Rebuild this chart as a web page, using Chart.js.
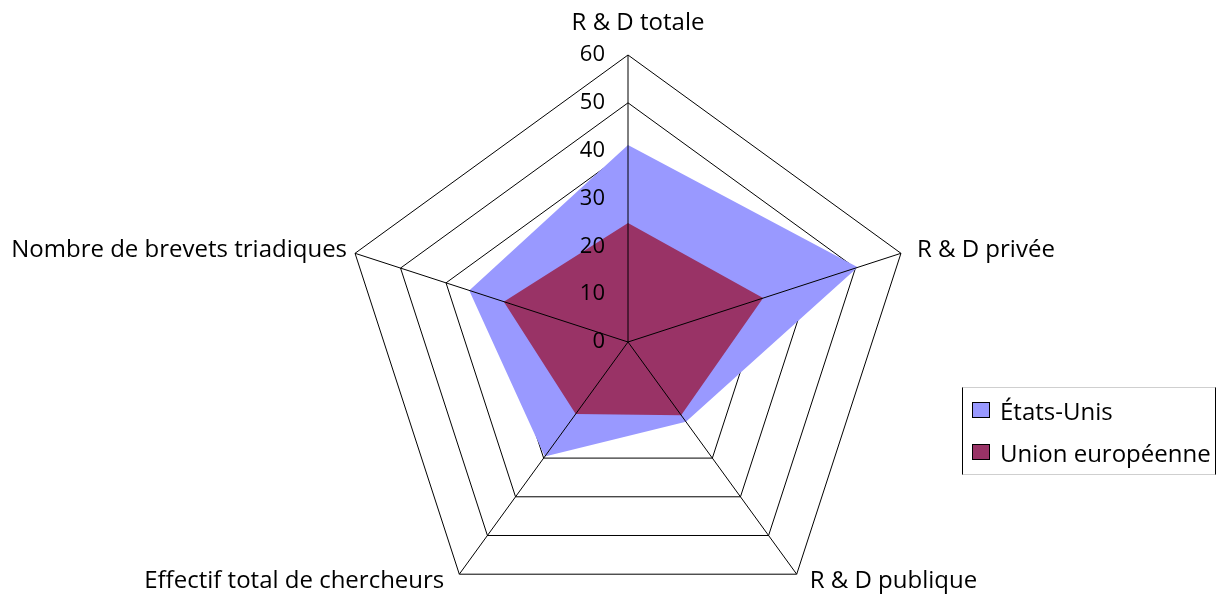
<!DOCTYPE html>
<html lang="fr">
<head>
<meta charset="utf-8">
<title>R &amp; D : États-Unis et Union européenne</title>
<script src="https://cdn.jsdelivr.net/npm/chart.js@4.4.1/dist/chart.umd.min.js"></script>
<style>
  html, body { margin: 0; padding: 0; background: #ffffff; overflow: hidden; }
  #wrap { position: relative; width: 1226px; height: 600px; }
  #chart { position: absolute; left: 0; top: 0; }
  #legend {
    position: absolute; left: 962px; top: 387px; width: 254px; height: 88px;
    border-left: 1.5px solid #000; border-right: 1.5px solid #000;
    border-top: 1px solid #cfcfcf; border-bottom: 1px solid #cfcfcf;
    font-family: "Open Sans", sans-serif; font-size: 24px; color: #000;
    box-sizing: border-box; white-space: nowrap;
  }
  .item { position: absolute; left: 9px; height: 30px; display: flex; align-items: center; }
  .swatch { width: 18px; height: 16px; border: 1px solid #000; margin-right: 10px; box-sizing: border-box; }
</style>
</head>
<body>
<div id="wrap">
  <canvas id="chart" width="1226" height="600"></canvas>
  <div id="legend"></div>
</div>
<script>
const categories = [
  "R & D totale",
  "R & D privée",
  "R & D publique",
  "Effectif total de chercheurs",
  "Nombre de brevets triadiques"
];
const seriesNames = ["États-Unis", "Union européenne"];
const etatsUnis = [41.2, 50.5, 20.6, 29.6, 34.9];
const unionEuropeenne = [24.9, 29.7, 18.9, 18.6, 27.3];
const seriesColors = ["#9999ff", "#993366"];
const tickValues = [0, 10, 20, 30, 40, 50, 60];

const FONT = "'Open Sans', sans-serif";

// Radar placement on the canvas.
const RADAR = { cx: 628, cy: 342, radius: 287 };

// Axis-name placement relative to each outer vertex: alignment and offset to the baseline.
const LABEL_PLACE = [
  { align: "center", dx: 10, dy: -25 },
  { align: "left", dx: 16, dy: 4 },
  { align: "left", dx: 13, dy: 14 },
  { align: "right", dx: -15, dy: 14 },
  { align: "right", dx: -8, dy: 4 }
];

// Spokes, tick numbers and axis names are painted over the filled areas.
const overlay = {
  id: "overlay",
  afterDatasetsDraw(chart) {
    const r = chart.scales.r;
    const ctx = chart.ctx;
    ctx.save();
    ctx.strokeStyle = "#000";
    ctx.lineWidth = 1;
    for (let i = 0; i < categories.length; i++) {
      const p = r.getPointPositionForValue(i, r.max);
      ctx.beginPath();
      ctx.moveTo(r.xCenter, r.yCenter);
      ctx.lineTo(p.x, p.y);
      ctx.stroke();
    }
    ctx.fillStyle = "#000";
    ctx.font = "22px " + FONT;
    ctx.textAlign = "right";
    ctx.textBaseline = "middle";
    tickValues.forEach(v => {
      const d = r.getDistanceFromCenterForValue(v);
      ctx.fillText(String(v), r.xCenter - 23, r.yCenter - d);
    });
    ctx.font = "24px " + FONT;
    ctx.textBaseline = "alphabetic";
    categories.forEach((name, i) => {
      const p = r.getPointPositionForValue(i, r.max);
      const pl = LABEL_PLACE[i];
      ctx.textAlign = pl.align;
      ctx.fillText(name, p.x + pl.dx, p.y + pl.dy);
    });
    ctx.restore();
  }
};

new Chart(document.getElementById("chart"), {
  type: "radar",
  data: {
    labels: categories,
    datasets: [
      {
        label: seriesNames[0],
        data: etatsUnis,
        backgroundColor: seriesColors[0],
        borderColor: seriesColors[0],
        borderWidth: 0,
        pointRadius: 0,
        fill: true,
        order: 2
      },
      {
        label: seriesNames[1],
        data: unionEuropeenne,
        backgroundColor: seriesColors[1],
        borderColor: seriesColors[1],
        borderWidth: 0,
        pointRadius: 0,
        fill: true,
        order: 1
      }
    ]
  },
  options: {
    responsive: false,
    animation: false,
    devicePixelRatio: 1,
    plugins: { legend: { display: false }, tooltip: { enabled: false } },
    elements: { line: { tension: 0 } },
    scales: {
      r: {
        min: 0,
        max: 60,
        ticks: { stepSize: 10, display: false },
        grid: { color: "#000", lineWidth: 1 },
        angleLines: { display: false },
        pointLabels: { display: false },
        afterFit(scale) {
          scale.xCenter = RADAR.cx;
          scale.yCenter = RADAR.cy;
          scale.drawingArea = RADAR.radius;
        }
      }
    }
  },
  plugins: [overlay]
});

// Legend entries built from the series names and colours.
const legend = document.getElementById("legend");
seriesNames.forEach((name, i) => {
  const item = document.createElement("div");
  item.className = "item";
  item.style.top = (i === 0 ? 7 : 49) + "px";
  const sw = document.createElement("span");
  sw.className = "swatch";
  sw.style.background = seriesColors[i];
  const tx = document.createElement("span");
  tx.textContent = name;
  item.appendChild(sw);
  item.appendChild(tx);
  legend.appendChild(item);
});
</script>
</body>
</html>
